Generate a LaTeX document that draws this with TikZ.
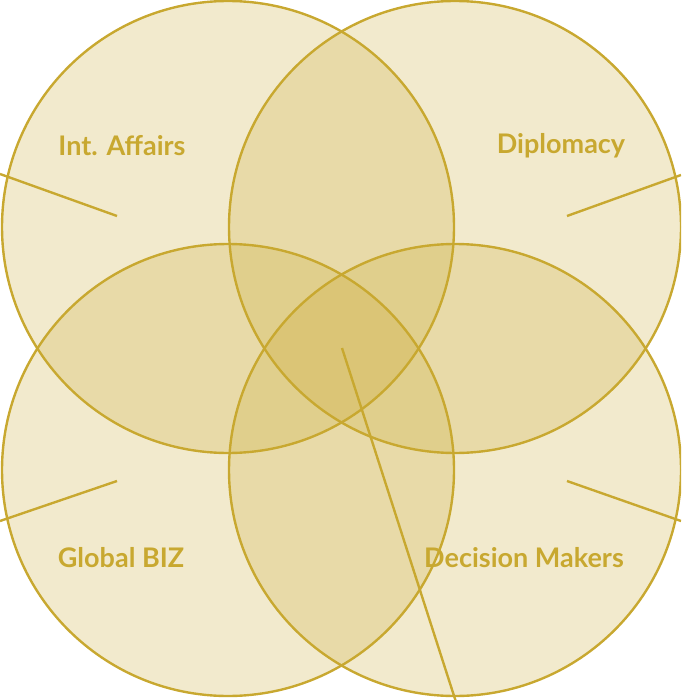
\documentclass[tikz,border=0pt]{standalone}
\usepackage{fontspec}
\setmainfont{Lato}
\usepackage{xcolor}
\usepackage{tikz}
\usetikzlibrary{positioning}
\definecolor{gold}{RGB}{200,168,48}

\begin{document}
\begin{tikzpicture}[
x=1pt, y=-1pt,
ring/.style={circle, draw=gold, line width=2.4pt, fill=gold, fill opacity=0.24, minimum size=452pt, inner sep=0pt},
field/.style={font=\fontsize{27}{32}\selectfont\bfseries, text=gold},
pointer/.style={draw=gold, line width=2.4pt},
]
\useasboundingbox (0,0) rectangle (681,700);
\clip (0,0) rectangle (681,700);

%Circles
\node[ring] (ia) at (228, 227) {};
\node[ring] (dip) at (455, 227) {};
\node[ring] (biz) at (228, 470) {};
\node[ring] (dm) at (455, 470) {};

%Labels
\node[field] (lia) at (122, 146) {Int. Affairs};
\node[field] (ldip) at (561, 146) {Diplomacy};
\node[field] (lbiz) at (121, 558) {Global BIZ};
\node[field] (ldm) at (524, 558) {Decision Makers};

%Pointer ends
\coordinate (ia-in) at (117, 216);
\coordinate (ia-out) at (0, 174);
\coordinate (dip-in) at (567, 216);
\coordinate (dip-out) at (681, 175);
\coordinate (biz-in) at (117, 481);
\coordinate (biz-out) at (0, 521);
\coordinate (dm-in) at (567, 481);
\coordinate (dm-out) at (681, 521);
\coordinate (core) at (342, 348);
\coordinate (core-out) at (456, 702);

%Pointers
\draw[pointer] (ia-in) -- (ia-out);
\draw[pointer] (dip-in) -- (dip-out);
\draw[pointer] (biz-in) -- (biz-out);
\draw[pointer] (dm-in) -- (dm-out);
\draw[pointer] (core) -- (core-out);
\end{tikzpicture}
\end{document}
